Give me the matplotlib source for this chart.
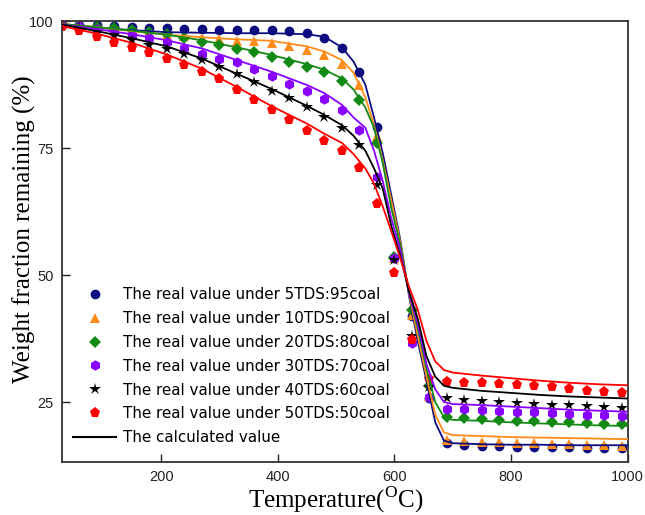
import matplotlib
matplotlib.use('Agg')
import matplotlib.pyplot as plt
from matplotlib.lines import Line2D

plt.rcParams['mathtext.fontset'] = 'custom'
plt.rcParams['mathtext.rm'] = 'Liberation Serif'

# measured points, every 30 C from 30 to 990
tempPts = list(range(30, 991, 30))

real5 = [99.3, 99.3, 99.2, 99.0, 98.9, 98.7, 98.6, 98.5, 98.4, 98.3, 98.3, 98.2, 98.2, 98.0, 97.6, 96.7, 94.6,
         90.0, 79.1, 53.3, 42.0, 25.8, 17.0, 16.6, 16.4, 16.3, 16.2, 16.2, 16.1, 16.1, 16.0, 16.0, 15.9]
real10 = [99.4, 99.2, 98.9, 98.6, 98.2, 97.8, 97.4, 97.0, 96.7, 96.4, 96.1, 96.0, 95.6, 95.1, 94.3, 93.3, 91.5,
          87.4, 77.4, 53.4, 42.2, 26.2, 17.5, 17.4, 17.2, 17.1, 17.0, 16.9, 16.8, 16.7, 16.6, 16.5, 16.4]
real20 = [99.3, 99.2, 98.9, 98.6, 98.2, 97.8, 97.4, 96.6, 95.8, 95.3, 94.5, 93.9, 93.0, 92.0, 91.0, 89.9, 88.2,
          84.4, 76.0, 53.5, 43.2, 28.2, 22.0, 21.8, 21.6, 21.5, 21.3, 21.2, 21.1, 21.0, 20.9, 20.7, 20.6]
real30 = [99.3, 99.0, 98.4, 97.8, 97.2, 96.6, 95.9, 94.6, 93.6, 92.6, 92.0, 90.5, 89.2, 87.7, 86.2, 84.6, 82.5,
          78.5, 69.2, 53.3, 36.7, 26.0, 23.7, 23.6, 23.4, 23.3, 23.1, 23.0, 22.8, 22.7, 22.5, 22.4, 22.2]
real40 = [99.3, 98.8, 98.0, 97.2, 96.2, 95.2, 94.5, 93.5, 92.3, 91.0, 89.5, 88.0, 86.3, 84.9, 83.0, 81.2, 79.0,
          75.6, 67.7, 53.0, 38.0, 28.0, 25.7, 25.5, 25.3, 25.1, 24.9, 24.7, 24.5, 24.4, 24.2, 24.0, 23.9]
real50 = [98.9, 98.0, 96.8, 95.6, 94.7, 93.7, 92.5, 91.3, 90.0, 88.5, 86.4, 84.4, 82.5, 80.5, 78.4, 76.4, 74.4,
          71.0, 63.9, 50.4, 37.2, 29.6, 28.9, 28.7, 28.7, 28.5, 28.3, 28.1, 27.9, 27.5, 27.2, 27.0, 26.7]

# calculated curves
tempCalc = [30, 90, 150, 210, 270, 330, 390, 450, 480, 510, 530, 550, 565, 580, 595, 610, 625, 640, 655, 670,
            685, 700, 750, 800, 850, 900, 950, 1000]
calc5 = [99.4, 98.7, 98.2, 97.8, 97.7, 97.6, 97.6, 97.4, 96.9, 94.8, 92.0, 87.5, 81.0, 74.0, 65.5, 57.0, 45.9,
         37.0, 29.2, 21.0, 17.4, 16.9, 16.7, 16.6, 16.6, 16.5, 16.5, 16.5]
calc10 = [99.4, 98.8, 98.0, 97.3, 96.8, 96.4, 96.1, 95.0, 94.0, 92.3, 89.8, 85.0, 79.5, 72.5, 64.5, 56.5, 46.3,
          38.0, 30.0, 22.5, 19.0, 18.5, 18.3, 18.1, 18.0, 17.9, 17.8, 17.7]
calc20 = [99.4, 98.8, 98.1, 97.3, 96.2, 94.8, 93.3, 91.5, 90.4, 88.7, 86.5, 83.0, 79.0, 72.0, 63.0, 56.0, 46.5,
          39.5, 31.5, 25.0, 22.0, 21.5, 21.3, 21.0, 20.8, 20.6, 20.4, 20.3]
calc30 = [99.3, 98.4, 97.4, 96.2, 94.6, 92.3, 90.0, 87.4, 85.8, 83.5, 81.0, 79.0, 74.5, 68.5, 61.0, 55.0, 46.5,
          40.3, 32.5, 27.5, 25.0, 24.6, 24.4, 24.1, 23.8, 23.5, 23.3, 23.1]
calc40 = [99.3, 98.0, 96.6, 95.0, 92.6, 89.6, 86.6, 83.3, 81.5, 79.5, 77.4, 74.5, 71.0, 67.0, 59.5, 53.8, 46.8,
          41.4, 34.0, 30.0, 28.2, 27.8, 27.2, 26.8, 26.4, 26.1, 25.9, 25.7]
calc50 = [99.0, 97.5, 95.7, 93.4, 90.6, 87.0, 83.2, 79.8, 77.8, 76.0, 73.8, 71.0, 68.0, 63.5, 58.5, 53.3, 47.7,
          43.2, 37.0, 33.0, 31.3, 30.8, 30.2, 29.7, 29.2, 28.8, 28.5, 28.3]

labels = ['The real value under 5TDS:95coal', 'The real value under 10TDS:90coal',
          'The real value under 20TDS:80coal', 'The real value under 30TDS:70coal',
          'The real value under 40TDS:60coal', 'The real value under 50TDS:50coal']
colors = ['#0c0c80', '#ff8c1a', '#138a13', '#8a00ff', '#000000', '#ff0000']
markers = ['o', '^', 'D', 'h', '*', 'p']
msizes = [7, 7.5, 6, 7.5, 9, 8]

realSets = [real5, real10, real20, real30, real40, real50]
calcSets = [calc5, calc10, calc20, calc30, calc40, calc50]

fig = plt.figure(figsize=(6.45, 5.15), dpi=100)
ax = fig.add_axes([0.0961, 0.1029, 0.8771, 0.8563])

handles = []
for vals, c, m, ms, lab in zip(realSets, colors, markers, msizes, labels):
    h, = ax.plot(tempPts, vals, linestyle='none', marker=m, color=c, markersize=ms,
                 markeredgewidth=0, label=lab, zorder=2)
    handles.append(h)
for vals, c in zip(calcSets, colors):
    ax.plot(tempCalc, vals, color=c, linewidth=1.3, zorder=3)

handles.append(Line2D([], [], color='black', linewidth=1.5, label='The calculated value'))

ax.set_xlim(30, 1000)
ax.set_ylim(13.2, 100)
ax.set_xticks([200, 400, 600, 800, 1000])
ax.set_yticks([25, 50, 75, 100])
ax.tick_params(direction='in', length=6, width=1, labelsize=10.5, pad=6, colors='#222222')
for lbl in ax.get_xticklabels() + ax.get_yticklabels():
    lbl.set_family('Liberation Sans')
for s in ax.spines.values():
    s.set_linewidth(1.3)
    s.set_color('#333333')

ax.set_xlabel('Temperature($^{\\rm O}$C)', family='Liberation Serif', fontsize=18)
ax.set_ylabel('Weight fraction remaining (%)', family='Liberation Serif', fontsize=18)
ax.xaxis.set_label_coords(0.484, -0.052)
ax.yaxis.set_label_coords(-0.046, 0.527)

ax.legend(handles=handles, loc='upper left', bbox_to_anchor=(0.0, 0.42), frameon=False,
          prop={'family': 'DejaVu Sans', 'size': 10.9}, handlelength=2.9, handletextpad=0.4,
          labelspacing=0.58, borderaxespad=0.3)

fig.savefig('out.png', dpi=100)
